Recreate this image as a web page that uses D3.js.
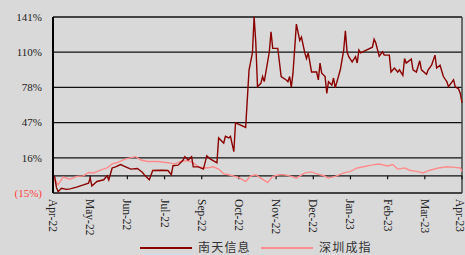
<!DOCTYPE html>
<html>
<head>
<meta charset="utf-8">
<script src="https://cdn.jsdelivr.net/npm/d3@7"></script>
<style>
  body { margin: 0; background: #d9d9d9; }
  svg { display: block; }
</style>
</head>
<body>
<div id="viz"></div>
<script>
// trading-day index (0..242) and cumulative return (%)
var ntDays = [0,1,2,3,5,8,10,14,18,21,22,23,26,30,32,33,35,37,40,43,46,50,53,54,57,59,64,68,70,71,74,77,78,80,82,83,86,89,91,93,97,98,101,102,104,105,107,108,114,116,118,119,120,121,123,124,125,128,129,130,133,135,138,139,140,141,142,144,146,147,149,150,151,153,156,157,158,159,161,162,163,165,166,167,170,172,173,174,175,177,179,180,181,182,189,190,191,193,195,196,199,200,202,204,205,207,208,209,212,213,215,217,218,221,222,224,226,227,229,231,233,234,237,238,240,241,242];
var ntVals = [0,-1,-10,-14,-11,-12,-11.5,-10,-8,-6.5,-2,-9,-5,-3.5,0,-3.5,7,8,10,8,6,6.5,3,1,-3.5,4.7,5,4.7,1,9,9.5,14,17,14,17,8,8,6,17.7,15,11.5,33.6,29,35,33.6,35,21.5,47,43,94,109,141,118,79,82,88,83.5,110,127.7,113,113,88,85,83.5,88,78.7,91,134.5,120,123,109,104,109,92,92,85,100,91,88,73,83.5,80.5,86.7,78,94,111.5,128.6,110,105.6,101,105.6,100,111.5,109,114,121,117.7,106,110,107,107,92,95.6,92,94,89,104,100,103.5,94,92,102,94,90,94,98,107,95.6,98,88,83.5,79,85,79,77,73,64.6];

var szDays = [0,3,6,10,14,18,21,24,28,32,35,38,43,49,52,56,62,67,72,76,80,83,86,91,95,98,101,104,110,114,117,120,123,127,130,134,137,141,144,149,153,156,160,163,167,172,176,180,185,189,193,198,201,204,208,211,215,219,223,228,233,238,241,242];
var szVals = [0,-8,-1,-3,-0.5,0,3,2.6,5,7,10.6,11.8,15,17,14,12.7,12.7,11.8,10.6,13,13.5,11.5,8,7,8,6,1.8,1,-1.5,-5,0,1,-2,-6,-0.5,1,1,-0.5,-2,2.6,3.5,1.8,0.3,-2,-0.5,2.6,4,7,8.5,9.7,10.5,8.8,10,6,7,5,4,2.6,5,7,8,7.5,7,4];

var monthLabels = ["Apr-22","May-22","Jun-22","Jul-22","Sep-22","Oct-22","Nov-22","Dec-22","Jan-23","Feb-23","Mar-23","Apr-23"];
var yTicks = [-15.2, 16, 47.2, 78.4, 109.6, 140.8];
var seriesNames = ["南天信息", "深圳成指"];
var seriesColors = ["#8b0000", "#ff8c8c"];

var W = 465, H = 255;
var plot = { left: 53, right: 462, top: 17, bottom: 193 };

var svg = d3.select("#viz").append("svg")
  .attr("width", W).attr("height", H);

svg.append("rect").attr("width", W).attr("height", H).attr("fill", "#d9d9d9");

var x = d3.scaleLinear().domain([0, 242]).range([plot.left, plot.right]);
var y = d3.scaleLinear().domain([-15.2, 140.8]).range([plot.bottom, plot.top]);

// gridlines
svg.append("g").selectAll("line")
  .data(yTicks).enter().append("line")
  .attr("x1", plot.left).attr("x2", plot.right)
  .attr("y1", function(d) { return y(d) }).attr("y2", function(d) { return y(d) })
  .attr("stroke", "#111").attr("stroke-width", 1.3);

// right border
svg.append("line")
  .attr("x1", plot.right).attr("x2", plot.right)
  .attr("y1", plot.top).attr("y2", plot.bottom)
  .attr("stroke", "#444").attr("stroke-width", 1.5);

// y axis labels
svg.append("g").selectAll("text")
  .data(yTicks).enter().append("text")
  .attr("x", 42)
  .attr("y", function(d) { return y(d) })
  .attr("dy", "0.35em")
  .attr("text-anchor", "end")
  .attr("font-family", "Liberation Serif, Times New Roman, serif")
  .attr("font-size", 11)
  .attr("fill", function(d) { return d < 0 ? "#ff3b3b" : "#222" })
  .text(function(d) {
    var r = Math.round(Math.abs(d));
    return d < 0 ? "(" + r + "%)" : r + "%";
  });

// x axis on zero line
var tickIdx = d3.range(monthLabels.length);
var xTick = function(i) { return x(i * 242 / (monthLabels.length - 1)) };

svg.append("line")
  .attr("x1", plot.left).attr("x2", plot.right)
  .attr("y1", y(0)).attr("y2", y(0))
  .attr("stroke", "#111").attr("stroke-width", 1.3);

svg.append("g").selectAll("line")
  .data(tickIdx).enter().append("line")
  .attr("x1", xTick).attr("x2", xTick)
  .attr("y1", y(0)).attr("y2", y(0) + 3.5)
  .attr("stroke", "#111").attr("stroke-width", 1.2);

svg.append("g").selectAll("text")
  .data(tickIdx).enter().append("text")
  .attr("transform", function(i) {
    // last label nudged in so it stays inside the window
    var px = Math.min(xTick(i), W - 5);
    return "translate(" + px + "," + 199 + ") rotate(90)";
  })
  .attr("dy", "0.35em")
  .attr("font-family", "Liberation Serif, Times New Roman, serif")
  .attr("font-size", 11.5)
  .attr("fill", "#222")
  .text(function(i) { return monthLabels[i] });

// series lines
var line = d3.line()
  .x(function(d) { return x(d[0]) })
  .y(function(d) { return y(d[1]) });

svg.append("path")
  .datum(d3.zip(szDays, szVals))
  .attr("d", line)
  .attr("fill", "none")
  .attr("stroke", seriesColors[1])
  .attr("stroke-width", 1.4);

svg.append("path")
  .datum(d3.zip(ntDays, ntVals))
  .attr("d", line)
  .attr("fill", "none")
  .attr("stroke", seriesColors[0])
  .attr("stroke-width", 1.4);

// left axis line
svg.append("line")
  .attr("x1", plot.left).attr("x2", plot.left)
  .attr("y1", plot.top).attr("y2", plot.bottom)
  .attr("stroke", "#000").attr("stroke-width", 2);

// legend
var legendX = [140, 261];
var leg = svg.append("g").selectAll("g")
  .data(seriesNames).enter().append("g")
  .attr("transform", function(d, i) { return "translate(" + legendX[i] + ",248)" });

leg.append("line")
  .attr("x1", 0).attr("x2", 52)
  .attr("stroke", function(d, i) { return seriesColors[i] })
  .attr("stroke-width", 1.8);

leg.append("text")
  .attr("x", 58)
  .attr("dy", "0.35em")
  .attr("font-family", "Noto Sans CJK SC, sans-serif")
  .attr("font-size", 12)
  .attr("letter-spacing", 1.2)
  .attr("fill", "#333")
  .text(function(d) { return d });
</script>
</body>
</html>
